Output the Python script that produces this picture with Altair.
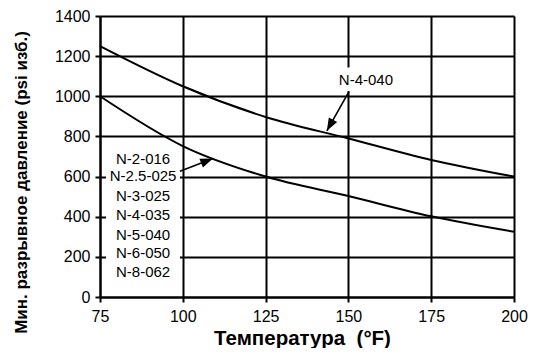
import altair as alt
import pandas as pd

FONT = "Liberation Sans"

# ---- data ----
temps = [75, 100, 125, 150, 175, 200]
upper_psi = [1250, 1050, 897, 790, 683, 600]
lower_psi = [1000, 752, 600, 503, 402, 325]

x_ticks = [75, 100, 125, 150, 175, 200]
y_ticks = [0, 200, 400, 600, 800, 1000, 1200, 1400]

left_labels = ["N-2-016", "N-2.5-025", "N-3-025", "N-4-035", "N-5-040", "N-6-050", "N-8-062"]
left_label_y = [690, 601, 503, 409, 311, 217, 123]
right_label = "N-4-040"

# ---- tables ----
curves = pd.DataFrame(
    {"t": temps * 2, "p": upper_psi + lower_psi, "s": ["upper"] * 6 + ["lower"] * 6}
)
left_df = pd.DataFrame({"t": [88.0] * len(left_labels), "p": left_label_y, "label": left_labels})
right_df = pd.DataFrame({"t": [155.3], "p": [1080], "label": [right_label]})

masks = pd.DataFrame(
    {"t": [76.8, 146.9], "t2": [99.15, 163.8], "p": [69, 1025], "p2": [744, 1144]}
)
shafts = pd.DataFrame(
    {"t": [150.2, 99.15], "t2": [143.5, 109.1], "p": [1025, 626], "p2": [828, 690]}
)
heads = pd.DataFrame({"t": [143.5, 109.1], "p": [828, 690], "ang": [209, 68.5]})

xs = alt.Scale(domain=[75, 200], nice=False, zero=False)
ys = alt.Scale(domain=[0, 1400], nice=False)

xaxis = alt.Axis(
    values=x_ticks, grid=True, title="Температура\u00a0 (°F)", titleFontSize=20.5,
    titleFontWeight="bold", labelFontSize=16, titlePadding=4, labelPadding=6,
    titleX=202, labelFlush=False,
)
yaxis = alt.Axis(
    values=y_ticks, grid=True, format="d", title="Мин. разрывное давление (psi изб.)",
    titleFontSize=17, titleFontWeight="bold", labelFontSize=16, titlePadding=24,
    labelPadding=5, titleY=166, labelFlush=False,
)

lines = alt.Chart(curves).mark_line(color="black", strokeWidth=2, interpolate="monotone").encode(
    x=alt.X("t:Q", scale=xs, axis=xaxis),
    y=alt.Y("p:Q", scale=ys, axis=yaxis),
    detail="s:N",
)

mask = alt.Chart(masks).mark_rect(color="white").encode(
    x=alt.X("t:Q", scale=xs), x2="t2", y=alt.Y("p:Q", scale=ys), y2="p2"
)

shaft = alt.Chart(shafts).mark_rule(color="black", strokeWidth=1.6).encode(
    x=alt.X("t:Q", scale=xs), x2="t2", y=alt.Y("p:Q", scale=ys), y2="p2"
)

head = alt.Chart(heads).mark_point(
    shape="M0,0L-0.38,1L0.38,1Z", filled=True, color="black", opacity=1, size=640
).encode(
    x=alt.X("t:Q", scale=xs), y=alt.Y("p:Q", scale=ys), angle=alt.Angle("ang:Q", scale=None)
)

ltext = alt.Chart(left_df).mark_text(font=FONT, fontSize=15, color="black").encode(
    x=alt.X("t:Q", scale=xs), y=alt.Y("p:Q", scale=ys), text="label:N"
)
rtext = alt.Chart(right_df).mark_text(font=FONT, fontSize=15, color="black").encode(
    x=alt.X("t:Q", scale=xs), y=alt.Y("p:Q", scale=ys), text="label:N"
)

chart = (
    alt.layer(mask, lines, shaft, head, ltext, rtext)
    .properties(
        width=414, height=281,
        autosize=alt.AutoSizeParams(type="none"),
        padding={"left": 92, "top": 8, "right": 15, "bottom": 51},
    )
    .configure_view(stroke=None)
    .configure_axis(
        domainColor="black", domainWidth=2, gridColor="black", gridWidth=2, gridOpacity=1,
        tickColor="black", tickWidth=2, tickSize=5, labelColor="black", titleColor="black",
        labelFont=FONT, titleFont=FONT,
    )
)

chart.save("out.html", embed_options={"renderer": "svg", "actions": False})
